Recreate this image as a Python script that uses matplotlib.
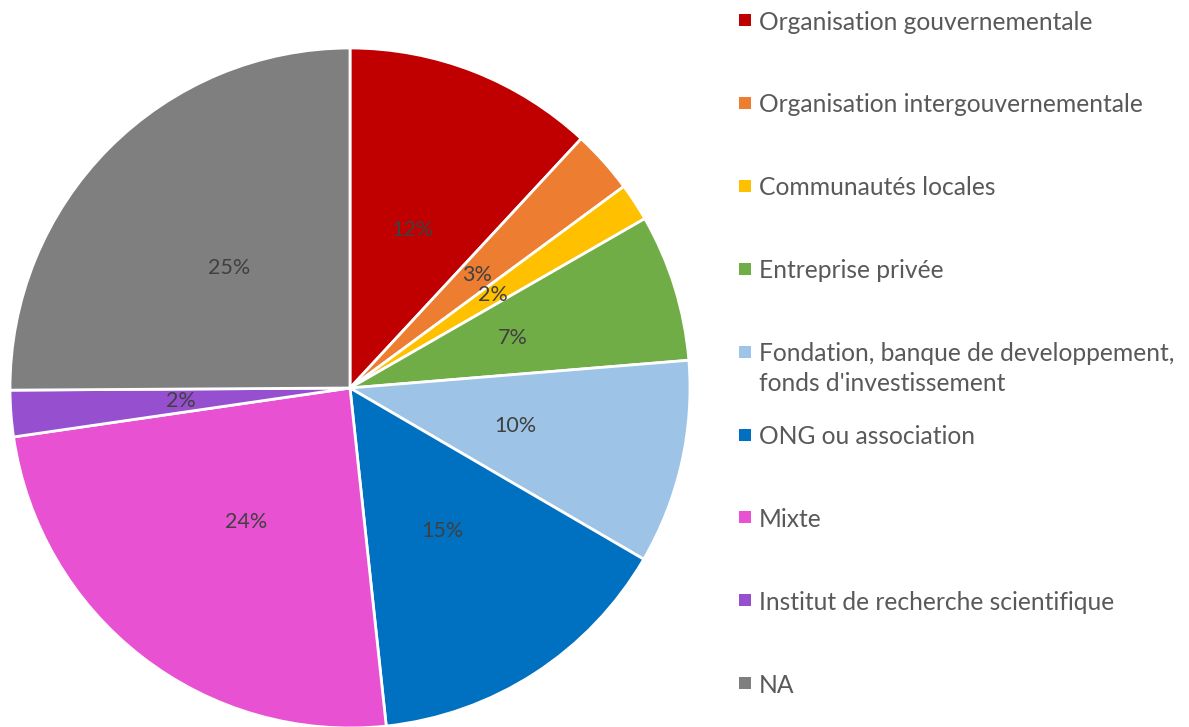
import matplotlib
matplotlib.use("Agg")
import matplotlib.pyplot as plt
from matplotlib.patches import Rectangle

categories = [
    "Organisation gouvernementale",
    "Organisation intergouvernementale",
    "Communautés locales",
    "Entreprise privée",
    "Fondation, banque de developpement,\nfonds d'investissement",
    "ONG ou association",
    "Mixte",
    "Institut de recherche scientifique",
    "NA",
]
values = [11.9, 3.0, 1.8, 7.0, 9.7, 14.9, 24.4, 2.2, 25.1]
colors = ["#C00000", "#ED7D31", "#FFC000", "#70AD47", "#9DC3E6",
          "#0070C0", "#E852D2", "#9650CF", "#7F7F7F"]

W, H = 1189, 727
fig = plt.figure(figsize=(W / 100, H / 100), dpi=100)
fig.patch.set_facecolor("white")

cx, cy, r = 350, 388, 340
ax = fig.add_axes([(cx - r) / W, (H - cy - r) / H, 2 * r / W, 2 * r / H])
wedges, texts, autotexts = ax.pie(
    values, colors=colors, startangle=90, counterclock=False,
    autopct="%.0f%%", pctdistance=0.5,
    wedgeprops=dict(edgecolor="white", linewidth=2),
    textprops=dict(color="#404040", fontsize=15.5, family="Lato"),
)
ax.set_xlim(-1, 1)
ax.set_ylim(-1, 1)
ax.set_aspect("equal")
ax.axis("off")

# legend (manual, Excel-like spacing)
y0, dy = 20, 82.9
for i, (lab, col) in enumerate(zip(categories, colors)):
    yc = y0 + i * dy
    fig.patches.append(Rectangle(((739) / W, (H - yc - 6) / H), 12 / W, 12 / H,
                                 transform=fig.transFigure, facecolor=col,
                                 edgecolor="none"))
    lines = lab.split("\n")
    for j, line in enumerate(lines):
        fig.text(759 / W, (H - yc - j * 30) / H, line, ha="left", va="center_baseline",
                 fontsize=17.7, color="#595959", family="Lato")

fig.savefig("out.png", dpi=100, facecolor="white")
